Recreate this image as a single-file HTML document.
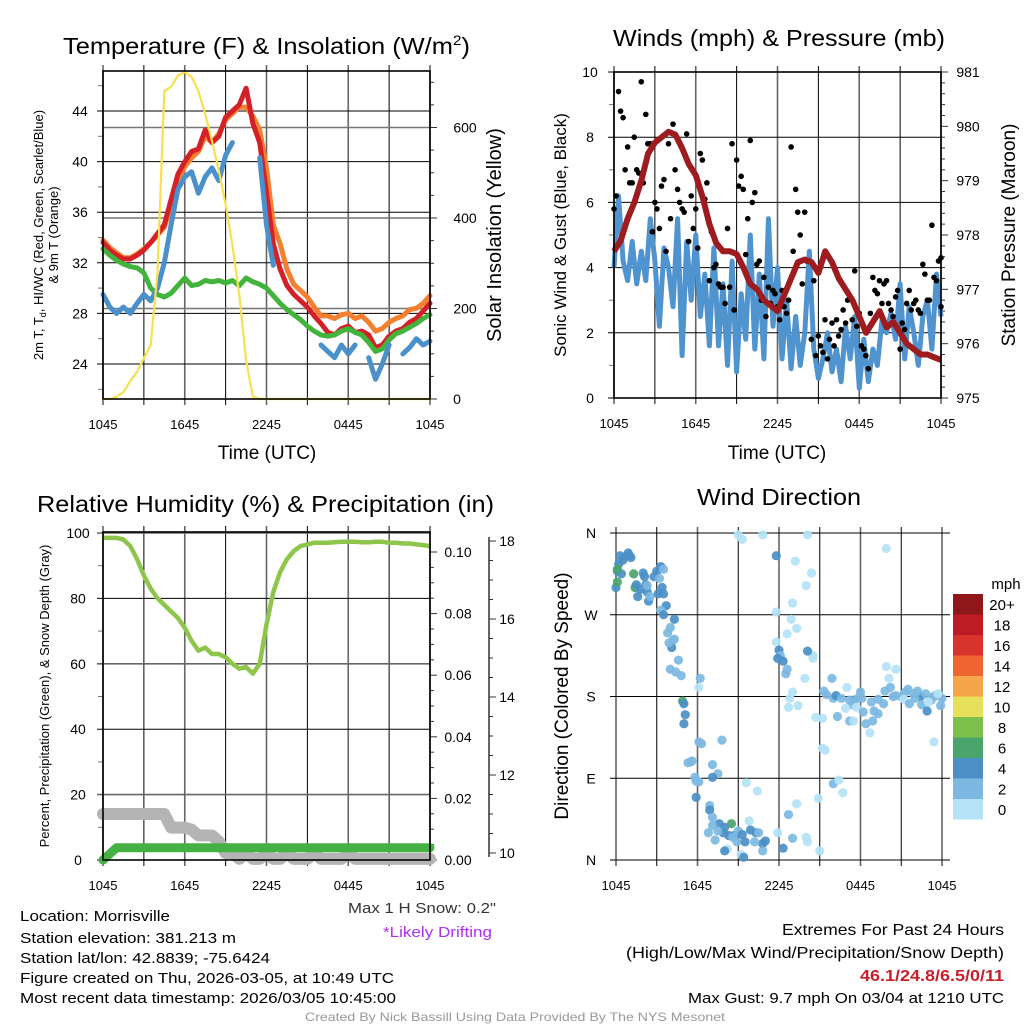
<!DOCTYPE html>
<html><head><meta charset="utf-8">
<style>
html,body{margin:0;padding:0;background:#fff;}
svg{display:block;font-family:"Liberation Sans",sans-serif;}
</style></head>
<body>
<svg id="fig" width="1024" height="1024" viewBox="0 0 1024 1024" xmlns="http://www.w3.org/2000/svg">
<rect width="1024" height="1024" fill="#fff"/>
<g id="g-tl"></g>
<g id="g-tr"></g>
<g id="g-bl"></g>
<g id="g-br"></g>

<text x="63" y="54" font-size="23" textLength="407" lengthAdjust="spacingAndGlyphs">Temperature (F) &amp; Insolation (W/m<tspan font-size="14" dy="-9">2</tspan><tspan dy="9">)</tspan></text>
<text x="613" y="46" font-size="23" textLength="332" lengthAdjust="spacingAndGlyphs">Winds (mph) &amp; Pressure (mb)</text>
<text x="37" y="512" font-size="23" textLength="457" lengthAdjust="spacingAndGlyphs">Relative Humidity (%) &amp; Precipitation (in)</text>
<text x="697" y="505" font-size="23" textLength="164" lengthAdjust="spacingAndGlyphs">Wind Direction</text>

<text x="267" y="459" font-size="19" text-anchor="middle">Time (UTC)</text>
<text x="777" y="459" font-size="19" text-anchor="middle">Time (UTC)</text>

<text transform="translate(43,235) rotate(-90)" font-size="13" text-anchor="middle">2m T, T<tspan font-size="9" dy="3">d</tspan><tspan dy="-3">, HI/WC (Red, Green, Scarlet/Blue)</tspan></text>
<text transform="translate(58,235) rotate(-90)" font-size="13" text-anchor="middle">&amp; 9m T (Orange)</text>
<text transform="translate(501,235) rotate(-90)" font-size="20" text-anchor="middle">Solar Insolation (Yellow)</text>
<text transform="translate(566,235) rotate(-90)" font-size="17" text-anchor="middle">Sonic Wind &amp; Gust (Blue, Black)</text>
<text transform="translate(1015,235) rotate(-90)" font-size="19" text-anchor="middle">Station Pressure (Maroon)</text>
<text transform="translate(49,696) rotate(-90)" font-size="13" text-anchor="middle">Percent, Precipitation (Green), &amp; Snow Depth (Gray)</text>
<text transform="translate(568,696) rotate(-90)" font-size="19" text-anchor="middle">Direction (Colored By Speed)</text>

<g font-size="15">
<text x="20" y="921" textLength="150" lengthAdjust="spacingAndGlyphs">Location: Morrisville</text>
<text x="20" y="943" textLength="216" lengthAdjust="spacingAndGlyphs">Station elevation: 381.213 m</text>
<text x="20" y="963" textLength="250" lengthAdjust="spacingAndGlyphs">Station lat/lon: 42.8839; -75.6424</text>
<text x="20" y="983" textLength="374" lengthAdjust="spacingAndGlyphs">Figure created on Thu, 2026-03-05, at 10:49 UTC</text>
<text x="20" y="1003" textLength="376" lengthAdjust="spacingAndGlyphs">Most recent data timestamp: 2026/03/05 10:45:00</text>
</g>
<text x="348" y="913" font-size="15" fill="#333" textLength="148" lengthAdjust="spacingAndGlyphs">Max 1 H Snow: 0.2"</text>
<text x="383" y="937" font-size="15" fill="#b02ff0" textLength="109" lengthAdjust="spacingAndGlyphs">*Likely Drifting</text>
<text x="782" y="935" font-size="16" textLength="222" lengthAdjust="spacingAndGlyphs">Extremes For Past 24 Hours</text>
<text x="626" y="958" font-size="16" textLength="378" lengthAdjust="spacingAndGlyphs">(High/Low/Max Wind/Precipitation/Snow Depth)</text>
<text x="860" y="981" font-size="16" font-weight="bold" fill="#c8202a" textLength="144" lengthAdjust="spacingAndGlyphs">46.1/24.8/6.5/0/11</text>
<text x="688" y="1003" font-size="15" textLength="316" lengthAdjust="spacingAndGlyphs">Max Gust: 9.7 mph On 03/04 at 1210 UTC</text>
<text x="305" y="1021" font-size="12" fill="#999" textLength="420" lengthAdjust="spacingAndGlyphs">Created By Nick Bassill Using Data Provided By The NYS Mesonet</text>
</svg>
<script>
// ---------- data (half-hour series, hour = index/2) ----------
const tempRed = [33.6,33.0,32.6,32.3,32.3,32.6,33.0,33.6,34.3,35.0,37.0,39.0,40.0,40.8,41.0,42.5,41.5,42.0,43.5,44.0,44.5,45.8,43.0,41.5,37.5,33.5,31.5,30.2,29.5,29.0,28.5,27.8,27.2,26.5,26.3,26.8,27.0,26.5,26.6,26.3,25.3,25.5,26.2,26.6,26.8,27.3,27.6,28.2,28.8];
const temp9m = [33.8,33.2,32.8,32.4,32.4,32.7,33.1,33.6,34.2,34.8,36.5,38.5,39.6,40.3,40.8,42.0,41.5,42.2,43.3,43.8,44.3,44.3,43.6,42.5,39.5,35.0,33.5,31.5,30.3,29.8,29.3,28.5,27.8,27.8,27.6,27.9,28.0,27.6,27.8,27.3,26.6,26.8,27.3,27.6,27.8,28.3,28.4,28.8,29.4];
const dewPoint = [33.1,32.6,32.2,31.9,31.7,31.6,31.2,30.0,29.5,29.3,29.6,30.2,30.8,30.2,30.3,30.6,30.5,30.6,30.4,30.6,30.2,30.8,30.5,30.3,30.0,29.4,28.8,28.3,27.9,27.5,27.0,26.6,26.3,26.2,26.3,26.6,26.8,26.5,26.3,25.7,25.0,25.2,25.9,26.4,26.6,26.9,27.2,27.6,27.9];
const windChill = [29.5,28.5,28.0,28.5,28.0,28.8,29.5,29.0,30.0,32.0,35.0,37.8,38.8,39.2,37.5,38.8,39.5,38.5,40.5,41.5,null,null,null,40.3,35.0,31.8,null,null,null,null,null,null,25.5,25.0,24.5,25.5,24.8,25.5,null,24.5,22.8,24.0,25.5,null,24.8,25.3,26.0,25.5,25.8];
const solar = [0,0,5,15,40,60,90,120,280,680,690,715,722,712,680,630,570,505,430,340,230,86,5,0,0,0,0,0,0,0,0,0,0,0,0,0,0,0,0,0,0,0,0,0,0,0,0,0,0];
const pressure = [977.7,977.9,978.3,978.6,979.0,979.5,979.7,979.8,979.9,979.85,979.6,979.3,979.1,978.7,978.2,977.85,977.7,977.7,977.65,977.4,977.1,977.0,976.8,976.7,976.6,976.9,977.2,977.5,977.55,977.5,977.3,977.7,977.5,977.2,977.0,976.8,976.5,976.2,976.4,976.6,976.3,976.4,976.2,976.0,975.9,975.8,975.8,975.75,975.7];
const humidity = [98.5,98.5,98.5,98.0,96.0,92.0,87.0,83.0,80.0,78.0,76.0,74.0,71.0,67.0,64.0,65.0,63.0,63.0,62.0,60.0,58.5,59.0,57.0,60.0,72.0,82.0,88.0,92.0,94.5,96.0,96.5,97.0,97.0,97.0,97.2,97.3,97.3,97.3,97.2,97.2,97.3,97.3,97.0,97.0,96.8,96.8,96.5,96.3,96.0];
const precip = [0.0,0.002,0.004,0.004,0.004,0.004,0.004,0.004,0.004,0.004,0.004,0.004,0.004,0.004,0.004,0.004,0.004,0.004,0.004,0.004,0.004,0.004,0.004,0.004,0.004,0.004,0.004,0.004,0.004,0.004,0.004,0.004,0.004,0.004,0.004,0.004,0.004,0.004,0.004,0.004,0.004,0.004,0.004,0.004,0.004,0.004,0.004,0.004,0.004];
const snowDepth = [11.0,11.0,11.0,11.0,11.0,11.0,11.0,11.0,11.0,11.0,10.65,10.65,10.65,10.6,10.45,10.45,10.45,10.3,10.0,10.0,9.85,10.0,9.85,9.85,10.0,9.85,9.85,10.0,9.85,9.85,9.85,10.0,9.85,9.85,9.85,9.85,10.0,9.85,9.85,9.85,9.85,9.85,9.85,9.85,9.85,9.85,9.85,9.85,9.85];
// 20-minute series (hour = index/3)
const windSpeed = [4.0,6.2,4.2,3.6,4.8,3.5,4.5,3.6,5.5,4.2,2.2,4.6,4.0,2.8,5.5,1.3,4.8,3.0,5.0,2.5,3.8,1.6,4.6,1.6,3.5,1.0,4.2,0.8,3.2,1.8,5.0,1.5,3.8,1.2,5.5,2.2,4.0,1.2,3.0,0.9,2.5,1.0,2.0,4.5,1.5,0.6,1.2,2.0,0.8,1.5,0.5,2.2,1.2,2.5,0.3,1.8,0.5,1.5,1.0,2.4,2.0,2.6,1.8,3.5,1.2,2.8,2.0,1.0,2.5,3.0,1.5,3.8,2.5];
const windGust = [5.8,9.4,8.6,7.7,6.6,7.0,9.7,8.7,7.8,6.0,5.2,6.7,7.8,8.4,6.4,5.8,8.1,6.2,5.8,7.5,6.1,3.6,4.0,3.5,3.4,5.2,7.8,7.3,6.8,4.4,7.9,6.3,4.2,3.7,3.4,3.3,2.8,3.3,2.6,7.7,6.4,5.0,5.7,4.2,3.6,1.9,1.4,1.2,2.3,2.4,2.1,2.3,3.1,3.9,2.6,1.5,0.9,3.7,3.2,2.9,3.6,2.7,3.1,1.5,2.1,3.3,2.9,2.7,4.1,3.0,5.3,3.6,4.3];
const windGust2 = [6.2,8.8,7.0,6.6,8.0,6.9,6.6,7.8,5.1,5.8,6.5,4.5,5.5,7.0,6.0,5.7,4.8,5.2,4.6,7.3,6.6,5.1,4.1,3.4,2.9,3.4,2.7,6.5,6.4,5.5,6.0,4.1,3.0,2.5,2.9,3.2,2.4,2.8,3.0,4.5,5.7,3.5,4.2,1.8,1.3,1.6,2.4,1.8,1.6,1.9,2.7,3.0,2.4,2.2,1.6,1.3,2.6,3.3,3.6,3.5,2.9,2.5,3.3,2.3,2.9,2.7,3.0,2.6,3.8,3.0,3.7,4.2,2.8];
// wind direction points
const dirHours = [0.0,0.1,0.2,0.3,0.5,0.7,0.9,1.0,1.1,0.4,0.1,0.1,1.3,1.4,1.5,1.6,1.8,2.0,2.1,2.2,2.3,2.4,2.5,2.3,2.8,3.0,3.3,3.5,3.4,3.2,3.5,3.7,3.3,3.5,3.1,4.3,4.0,3.8,4.2,4.1,4.3,3.9,4.6,4.0,4.4,4.8,4.9,5.0,5.1,5.0,6.1,6.2,6.1,6.3,7.8,5.3,5.5,5.6,7.1,7.5,5.8,5.9,6.1,7.1,9.6,5.9,6.9,6.9,7.1,7.6,7.1,8.5,8.0,7.9,8.3,8.7,9.0,9.3,9.9,10.3,10.5,11.0,7.5,6.8,7.3,8.6,8.9,9.5,10.8,8.2,8.0,9.2,9.4,10.2,10.8,12.3,11.9,13.0,14.1,12.7,10.4,9.8,13.3,14.0,15.0,14.9,16.0,16.7,16.4,9.0,9.3,10.8,14.1,11.8,13.2,14.4,14.0,13.0,11.8,12.9,13.3,12.6,14.5,14.1,14.5,13.9,13.0,12.8,13.4,12.7,14.7,15.2,15.2,15.4,19.9,11.8,12.0,12.1,11.9,12.3,12.5,12.6,15.9,15.3,15.5,16.0,16.2,16.6,17.5,17.8,18.1,18.8,19.3,19.8,20.2,20.6,21.0,21.3,21.9,22.4,22.8,23.4,24.0,17.0,17.4,17.7,18.2,18.9,19.0,19.3,19.7,20.4,21.2,21.6,22.2,22.5,22.9,23.2,23.5,23.9,16.3,17.2,17.5,18.4,18.7,23.4,16.9,20.1,20.6,19.9,21.5,22.0,23.0,23.7,18.0,17.2];
const dirDegrees = [300,318,326,335,330,334,338,335,333,315,306,320,315,300,303,290,298,316,312,303,295,285,290,302,312,318,323,320,300,310,293,280,275,270,293,265,256,250,242,234,243,239,220,210,207,203,175,172,160,150,190,200,130,128,132,107,108,109,105,95,91,87,86,91,85,69,60,55,47,40,38,40,36,30,27,27,32,28,33,30,30,21,32,30,22,25,20,20,18,12,10,6,3,20,10,13,30,24,20,50,76,43,62,25,10,68,84,74,88,358,353,358,358,335,329,316,302,283,273,265,255,249,225,230,222,200,185,178,170,168,157,156,123,121,343,240,231,225,222,219,205,210,200,186,182,178,181,178,176,178,178,174,177,186,190,181,180,185,183,180,183,180,178,190,171,168,163,153,164,161,172,180,177,172,186,171,164,176,181,170,158,153,153,150,140,130,167,200,210,213,188,178,174,183,185,176];
const dirSpeeds = [4.5,4.5,4.5,4.5,4.5,4.5,4.5,4.5,4.5,4.5,6.5,6.5,6.5,6.5,4.5,4.5,4.5,4.5,4.5,4.5,4.5,4.5,3,3,4.5,4.5,4.5,3,4.5,3,4.5,4.5,3,4.5,4.5,4.5,3,3,3,4.5,3,3,3,3,3,3,6.5,4.5,4.5,4.5,1,3,3,3,3,3,3,3,3,3,3,3,3,4.5,1,4.5,3,4.5,3,4.5,3,6.5,4.5,4.5,4.5,4.5,3,4.5,4.5,4.5,3,4.5,3,3,3,3,3,4.5,4.5,1,4.5,1,4.5,3,3,4.5,1,3,1,3,1,1,1,1,1,1,3,1,1,1,1,1,1,4.5,1,1,1,1,1,1,1,1,1,4.5,1,1,1,1,1,1,1,1,1,1,1,1,4.5,3,4.5,4.5,3,3,3,3,3,3,4.5,3,4.5,3,3,3,3,3,3,3,3,3,3,4.5,3,3,3,1,3,1,3,3,3,3,3,3,1,3,3,3,4.5,3,3,3,3,3,1,3,1,1,1,1,1,1,3,3,1,1,3,3,3,3,1,1,3,3,1,3];
// colorbar
const cbLabels = ["20+","18","16","14","12","10","8","6","4","2","0"];
const cbColors = ["#8f1619","#bc1d25","#d8342b","#ee6531","#f5a64a","#e6e05a","#7cc14b","#4aa56c","#4a8fc6","#7db8e2","#b4e2f6"];
const timeLabels = ["1045","1645","2245","0445","1045"];

// ---------- helpers ----------
const NS="http://www.w3.org/2000/svg";
function mk(parent, tag, attrs){const e=document.createElementNS(NS,tag);for(const k in attrs)e.setAttribute(k,attrs[k]);parent.appendChild(e);return e;}
function txt(parent,x,y,s,size,anchor){const t=mk(parent,"text",{x:x,y:y,"font-size":size,"text-anchor":anchor||"middle"});t.textContent=s;return t;}
function linePath(vals,step,xf,yf){let d="",pen=false;vals.forEach((v,i)=>{if(v===null){pen=false;return;}d+=(pen?"L":"M")+xf(i*step).toFixed(1)+","+yf(v).toFixed(1);pen=true;});return d;}

function frame(g,x0,x1,y0,y1){
  for(let k=0;k<=8;k++){
    const x=x0+(x1-x0)*k/8;
    const l=mk(g,"line",{x1:x,x2:x,y1:y0-6,y2:y1+6,stroke:k%2?"#000":"#666","stroke-width":k%2?1:1.6});
    
    
  }
  timeLabels.forEach((s,k)=>{
    const t=txt(g,x0+(x1-x0)*k/4,y1+30,s,13);
    
    
  });
}
function hgrid(g,x0,x1,y,labelX,s,anchor,dark){
  const l=mk(g,"line",{x1:x0-6,x2:x1,y1:y,y2:y,stroke:dark?"#000":"#666","stroke-width":dark?1:1.6});
  
  
  if(s!==null){const t=txt(g,labelX,y+5,s,14,anchor);
    
    }
}
function rtick(g,x,y,len,label,lx){
  mk(g,"line",{x1:x,x2:x+len,y1:y,y2:y,stroke:"#333","stroke-width":1});
  if(label!==null){const t=txt(g,lx,y+5,label,14,"middle");
    
    }
}
function box(g,x0,x1,y0,y1){
  const r=mk(g,"rect",{x:x0,y:y0,width:x1-x0,height:y1-y0,fill:"none",stroke:"#000","stroke-width":1.6});
  
  
}

// ---------- Panel 1: temperature ----------
(function(){
  const g=document.getElementById("g-tl");
  const X0=103,X1=430,Y0=71,Y1=399;
  const xs=h=>X0+(X1-X0)*h/24;
  const yT=v=>364-(v-24)*12.65;
  const yS=v=>399-v*0.4525;
  frame(g,X0,X1,Y0,Y1);
  [24,28,32,36,40,44].forEach(v=>hgrid(g,X0,X1,yT(v),80,String(v),"middle",true));
  [200,400,600].forEach(v=>mk(g,"line",{x1:X0,x2:X1,y1:yS(v),y2:yS(v),stroke:"#777","stroke-width":1.4}));
  for(let v=22;v<=46;v+=2){if(v%4)mk(g,"line",{x1:X0-5,x2:X0,y1:yT(v),y2:yT(v),stroke:"#777"});}
  for(let v=0;v<=700;v+=50)rtick(g,X1,yS(v),v%200?4:7,v%200?null:String(v),v===0?457:465);
  const specs=[[temp9m,"#f47f2e","9m-temperature-line",5],[tempRed,"#d42027","temperature-line",5],[dewPoint,"#42b33c","dewpoint-line",5],[windChill,"#4a90cb","wind-chill-line",5],[solar,"#f8e04e","solar-line",2.2]];
  specs.forEach(s=>{
    const yf=s[0]===solar?yS:yT;
    const p=mk(g,"path",{d:linePath(s[0],0.5,xs,yf),fill:"none",stroke:s[1],"stroke-width":s[3],"stroke-linejoin":"round","stroke-linecap":"round"});
    
    
  });
  box(g,X0,X1,Y0,Y1);
})();

// ---------- Panel 2: winds ----------
(function(){
  const g=document.getElementById("g-tr");
  const X0=614,X1=941,Y0=72,Y1=398;
  const xs=h=>X0+(X1-X0)*h/24;
  const yW=v=>Y1-v*(Y1-Y0)/10;
  const yP=v=>Y1-(v-975)*(Y1-Y0)/6;
  frame(g,X0,X1,Y0,Y1);
  [0,2,4,6,8,10].forEach(v=>hgrid(g,X0,X1,yW(v),590,String(v),"middle",true));
  for(let v=1;v<10;v+=2)mk(g,"line",{x1:X0-5,x2:X0,y1:yW(v),y2:yW(v),stroke:"#777"});
  for(let v=975;v<=981.01;v+=0.2){const maj=Math.abs(v-Math.round(v))<0.01;rtick(g,X1,yP(v),maj?7:4,maj?String(Math.round(v)):null,968);}
  const ws=mk(g,"path",{d:linePath(windSpeed,1/3,xs,yW),fill:"none",stroke:"#4f93cf","stroke-width":5,"stroke-linejoin":"round"});
  
  
  [windGust,windGust2].forEach(arr=>arr.forEach((v,i)=>{
    const c=mk(g,"circle",{cx:xs(Math.min(24,i/3+(arr===windGust2?0.15:0))),cy:yW(v),r:2.8,fill:"#000"});
    
    
  }));
  const pr=mk(g,"path",{d:linePath(pressure,0.5,xs,yP),fill:"none",stroke:"#9e1b1f","stroke-width":6,"stroke-linejoin":"round"});
  
  
  box(g,X0,X1,Y0,Y1);
})();

// ---------- Panel 3: humidity ----------
(function(){
  const g=document.getElementById("g-bl");
  const X0=103,X1=430,Y0=532,Y1=860;
  const xs=h=>X0+(X1-X0)*h/24;
  const yH=v=>Y1-v*3.27;
  const yPr=v=>Y1-v*3080;
  const ySn=v=>853-(v-10)*39;
  frame(g,X0,X1,Y0,Y1);
  [0,20,40,60,80,100].forEach(v=>hgrid(g,X0,X1,yH(v),78,String(v),"middle",v%40===0));
  for(let v=10;v<100;v+=20)mk(g,"line",{x1:X0-5,x2:X0,y1:yH(v),y2:yH(v),stroke:"#777"});
  for(let v=0;v<=0.1001;v+=0.005){const maj=Math.round(v*1000)%20===0;rtick(g,X1,yPr(v),maj?7:4,maj?v.toFixed(2):null,458);}
  mk(g,"line",{x1:489,x2:489,y1:537,y2:857,stroke:"#333","stroke-width":1.5});
  for(let v=10;v<=18.01;v+=0.5){const maj=Math.abs(v%2)<0.01;rtick(g,489,ySn(v),maj?7:4,maj?String(Math.round(v)):null,507);}
  const sn=mk(g,"path",{d:linePath(snowDepth,0.5,xs,ySn),fill:"none",stroke:"#b4b4b4","stroke-width":12,"stroke-linejoin":"round","stroke-linecap":"round"});
  
  
  const pp=mk(g,"path",{d:linePath(precip,0.5,xs,yPr),fill:"none",stroke:"#45b145","stroke-width":9,"stroke-linejoin":"round","stroke-linecap":"round"});
  
  
  const rh=mk(g,"path",{d:linePath(humidity,0.5,xs,yH),fill:"none",stroke:"#8dc64b","stroke-width":4.5,"stroke-linejoin":"round"});
  
  
  box(g,X0,X1,Y0,Y1);
})();

// ---------- Panel 4: wind direction ----------
(function(){
  const g=document.getElementById("g-br");
  const X0=616,X1=942,Y0=533,Y1=860;
  const xs=h=>X0+(X1-X0)*h/24;
  const yD=v=>Y1-v*(Y1-Y0)/360;
  frame(g,X0,X1,Y0,Y1);
  [["N",0],["E",90],["S",180],["W",270],["N",360]].forEach(a=>hgrid(g,X0,X1+8,yD(a[1]),591,a[0],"middle",true));
  const colorFor=s=>{const v=(typeof s==="number"&&!isNaN(s))?s:1;return cbColors[10-Math.min(10,Math.floor(v/2))];};
  const n=Math.min(dirHours.length,dirDegrees.length);
  for(let i=0;i<n;i++){
    const c=mk(g,"circle",{cx:xs(dirHours[i]),cy:yD(dirDegrees[i]),r:4.6,fill:colorFor(dirSpeeds[i]),"fill-opacity":0.92});
    
    
  }
  const lg=mk(g,"g",{});
  
  
  txt(lg,1006,589,"mph",15);
  cbColors.forEach((c,k)=>{
    const r=mk(lg,"rect",{x:953,y:594+k*20.5,width:30,height:20.5,fill:c});
    
    
    const t=txt(lg,1002,594+k*20.5+16,cbLabels[k],15);
    
    
  });
})();
</script>
</body></html>
